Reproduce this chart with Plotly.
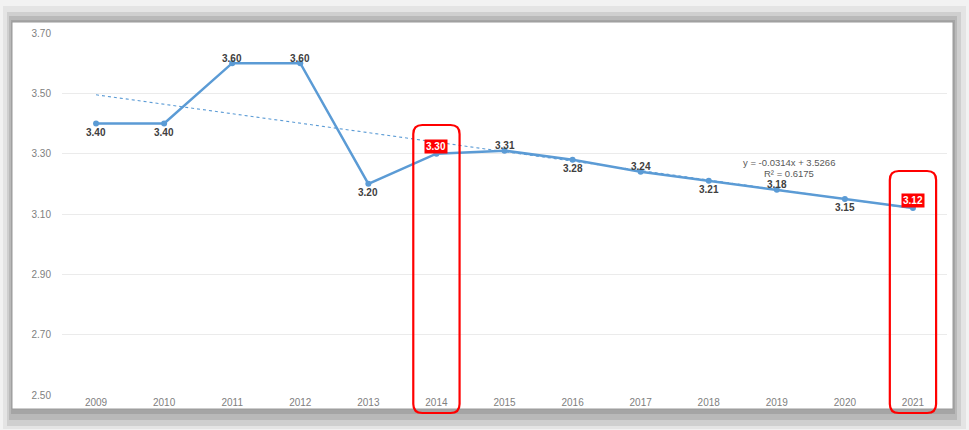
import plotly.graph_objects as go

years = ["2009", "2010", "2011", "2012", "2013", "2014", "2015",
         "2016", "2017", "2018", "2019", "2020", "2021"]
values = [3.40, 3.40, 3.60, 3.60, 3.20, 3.30, 3.31, 3.28, 3.24, 3.21, 3.18, 3.15, 3.12]
label_above = [False, False, True, True, False, True, True, False, True, False, True, False, True]
highlighted = ["2014", "2021"]
trend_slope = -0.0314
trend_intercept = 3.5266
trend_r2 = 0.6175

W, H = 969, 430
L, R, T, B = 62, 22, 33, 35
PW, PH = W - L - R, H - T - B

def px(xp):
    return (xp - L) / PW

def py(yp):
    return (H - B - yp) / PH

idx = list(range(len(years)))
blue = "#5b9bd5"

fig = go.Figure()

# trendline (from equation)
tx = [idx[0], idx[-1]]
ty = [trend_slope * (i + 1) + trend_intercept for i in tx]
fig.add_trace(go.Scatter(x=tx, y=ty, mode="lines",
                         line=dict(color=blue, width=1.1, dash="dot"),
                         hoverinfo="skip", showlegend=False))

fig.add_trace(go.Scatter(x=idx, y=values, mode="lines+markers",
                         line=dict(color=blue, width=2.5),
                         marker=dict(color=blue, size=6),
                         showlegend=False))

shapes = []
# shadow frame
for (x0, y0, x1, y1, c) in [(3, 6, 966, 429, "#e4e4e4"),
                            (7, 12, 961, 426, "#cfcfcf"),
                            (9, 16, 957, 420, "#b9b9b9"),
                            (11, 20, 955, 414, "#a5a5a5")]:
    shapes.append(dict(type="rect", xref="paper", yref="paper",
                       x0=px(x0), x1=px(x1), y0=py(y1), y1=py(y0),
                       fillcolor=c, line=dict(width=0), layer="below"))
shapes.append(dict(type="rect", xref="paper", yref="paper",
                   x0=px(12), x1=px(953), y0=py(409), y1=py(22),
                   fillcolor="white", line=dict(color="#9a9a9a", width=1), layer="below"))

# red highlight boxes (rounded)
def rounded_path(cx, hw, ytop, ybot, r_px=9):
    rx = r_px / (PW / len(years))
    ry = r_px / PH
    x0, x1 = cx - hw, cx + hw
    y0, y1 = ybot, ytop
    return (f"M {x0+rx},{y1} L {x1-rx},{y1} Q {x1},{y1} {x1},{y1-ry} "
            f"L {x1},{y0+ry} Q {x1},{y0} {x1-rx},{y0} L {x0+rx},{y0} "
            f"Q {x0},{y0} {x0},{y0+ry} L {x0},{y1-ry} Q {x0},{y1} {x0+rx},{y1} Z")

box_tops = {"2014": 125, "2021": 171}
for yr in highlighted:
    i = years.index(yr)
    shapes.append(dict(type="path", xref="x", yref="paper",
                       path=rounded_path(i, 0.34, py(box_tops[yr]), py(413)),
                       line=dict(color="#ff0000", width=2.2), layer="above"))

annotations = []
for i, (yr, v, up) in enumerate(zip(years, values, label_above)):
    if yr in highlighted:
        annotations.append(dict(x=i, y=v, xref="x", yref="y", text=f"<b>{v:.2f}</b>",
                                showarrow=False, yshift=7, bgcolor="#ff0000",
                                font=dict(color="white", size=10, family="Liberation Sans"),
                                borderpad=1))
    else:
        annotations.append(dict(x=i, y=v, xref="x", yref="y", text=f"<b>{v:.2f}</b>",
                                showarrow=False, yshift=5 if up else -9,
                                font=dict(color="#404040", size=10, family="Liberation Sans")))

annotations.append(dict(x=px(789), y=py(162), xref="paper", yref="paper",
                        xanchor="center", yanchor="middle",
                        text=f"y = {trend_slope:.4f}x + {trend_intercept:.4f}",
                        showarrow=False, align="center",
                        font=dict(color="#595959", size=9.5, family="Liberation Sans")))
annotations.append(dict(x=px(789), y=py(173), xref="paper", yref="paper",
                        xanchor="center", yanchor="middle",
                        text=f"R² = {trend_r2:.4f}",
                        showarrow=False, align="center",
                        font=dict(color="#595959", size=9.5, family="Liberation Sans")))

fig.update_layout(
    width=W, height=H,
    margin=dict(l=L, r=R, t=T, b=B),
    paper_bgcolor="#f2f2f2",
    plot_bgcolor="rgba(0,0,0,0)",
    shapes=shapes,
    annotations=annotations,
    xaxis=dict(range=[-0.5, len(years) - 0.5], tickvals=idx, ticktext=years,
               showgrid=False, zeroline=False, showline=False, ticks="",
               tickfont=dict(color="#808080", size=10, family="Liberation Sans")),
    yaxis=dict(range=[2.5, 3.7], dtick=0.2, tick0=2.5, tickformat=".2f",
               showgrid=True, gridcolor="#ebebeb", gridwidth=1, zeroline=False,
               showline=False, ticks="", ticklabelstandoff=10,
               tickfont=dict(color="#808080", size=10, family="Liberation Sans")),
)

fig.write_html("out.html", config={"displayModeBar": False},
               post_script="document.body.style.margin='0';")
